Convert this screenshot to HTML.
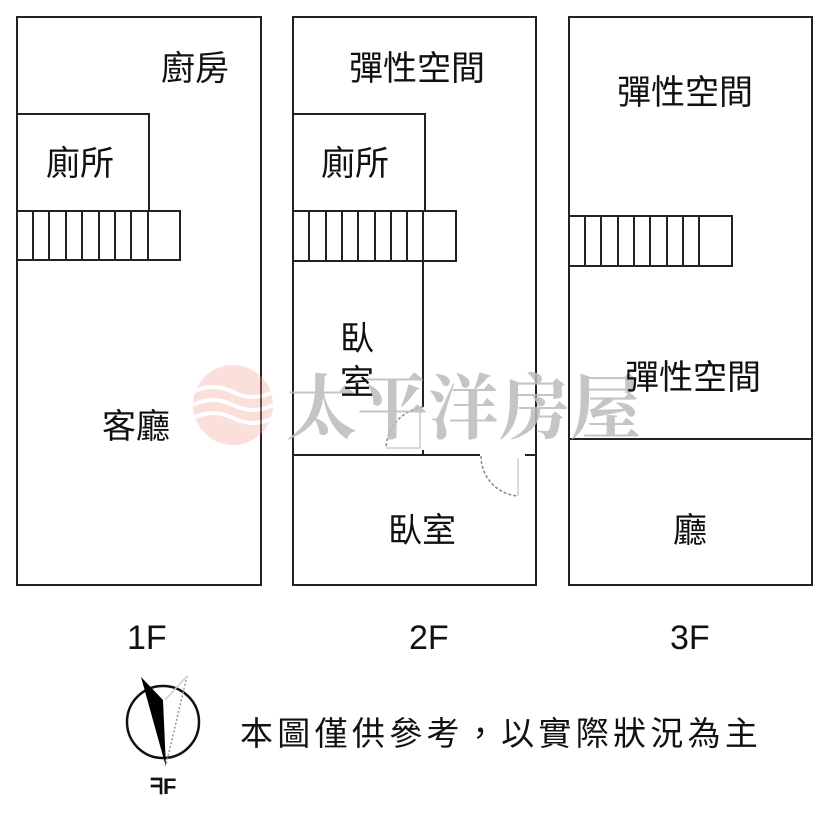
<!DOCTYPE html>
<html><head><meta charset="utf-8"><style>
html,body{margin:0;padding:0;background:#fff;}
svg{display:block;}
text{font-family:"Liberation Sans","Noto Sans CJK TC",sans-serif;fill:#111;}
</style></head><body>
<svg width="830" height="814" viewBox="0 0 830 814" xmlns="http://www.w3.org/2000/svg">
<g stroke="#222" stroke-width="2" fill="none">
<rect x="17" y="17" width="244" height="568"/>
<polyline points="17,114 149,114 149,211"/>
<rect x="17" y="211" width="163" height="49"/>
<path d="M33 211V260M49 211V260M66 211V260M82 211V260M99 211V260M115 211V260M131 211V260M148 211V260"/>
<rect x="293" y="17" width="243" height="568"/>
<polyline points="293,114 425,114 425,211"/>
<rect x="293" y="211" width="163" height="50"/>
<path d="M309 211V261M326 211V261M342 211V261M358 211V261M375 211V261M391 211V261M407 211V261M423 211V261"/>
<path d="M423 261V407M423 450V455M293 455H480M525 455H536"/>
</g>
<g stroke="#888" stroke-width="1.5" fill="none">
<path d="M423 407 A43 43 0 0 0 386 448" stroke-dasharray="3,2"/>
<path d="M386 448H420V410" stroke="#ccc"/>
<path d="M481 456 A40 40 0 0 0 518 496" stroke-dasharray="3,2"/>
<path d="M518 496V458" stroke="#ccc"/>
</g>
<g stroke="#222" stroke-width="2" fill="none">
<rect x="569" y="17" width="243" height="568"/>
<rect x="569" y="216" width="163" height="50"/>
<path d="M585 216V266M601 216V266M618 216V266M634 216V266M650 216V266M667 216V266M683 216V266M699 216V266"/>
<path d="M569 439H812"/>
</g>
<g opacity="0.35">
<circle cx="233" cy="405" r="40" fill="#f3a49a"/>
<path d="M193 392q20-10 40 0t40 0M193 405q20-10 40 0t40 0M193 418q20-10 40 0t40 0" stroke="#fff" stroke-width="4" fill="none"/>
</g>
<text x="286" y="433" font-size="71" style="font-family:'Noto Serif CJK SC','Liberation Serif',serif;fill:#bbb;font-weight:bold" opacity="0.85">太平洋房屋</text>
<g font-size="34">
<text x="161" y="80">廚房</text>
<text x="46" y="175">廁所</text>
<text x="102" y="438">客廳</text>
<text x="349" y="80">彈性空間</text>
<text x="321" y="175">廁所</text>
<text x="340" y="350">臥</text>
<text x="340" y="394">室</text>
<text x="388" y="542">臥室</text>
<text x="617" y="104">彈性空間</text>
<text x="625" y="389">彈性空間</text>
<text x="673" y="542">廳</text>
<text x="127" y="649">1F</text>
<text x="409" y="649">2F</text>
<text x="670" y="649">3F</text>
</g>
<text x="240" y="745" font-size="33" letter-spacing="4.3">本圖僅供參考，以實際狀況為主</text>
<circle cx="163" cy="722" r="36" fill="none" stroke="#111" stroke-width="2.5"/>
<polygon points="141,677 163,700 166,767" fill="#000"/>
<path d="M187,676 L166,765" stroke="#999" stroke-width="1.5" stroke-dasharray="2,2" fill="none"/>
<path d="M187,676 L165,700" stroke="#ccc" stroke-width="1.5" fill="none"/>
<text x="150" y="794" font-size="22" font-weight="bold">ᖷF</text>
</svg>
</body></html>
